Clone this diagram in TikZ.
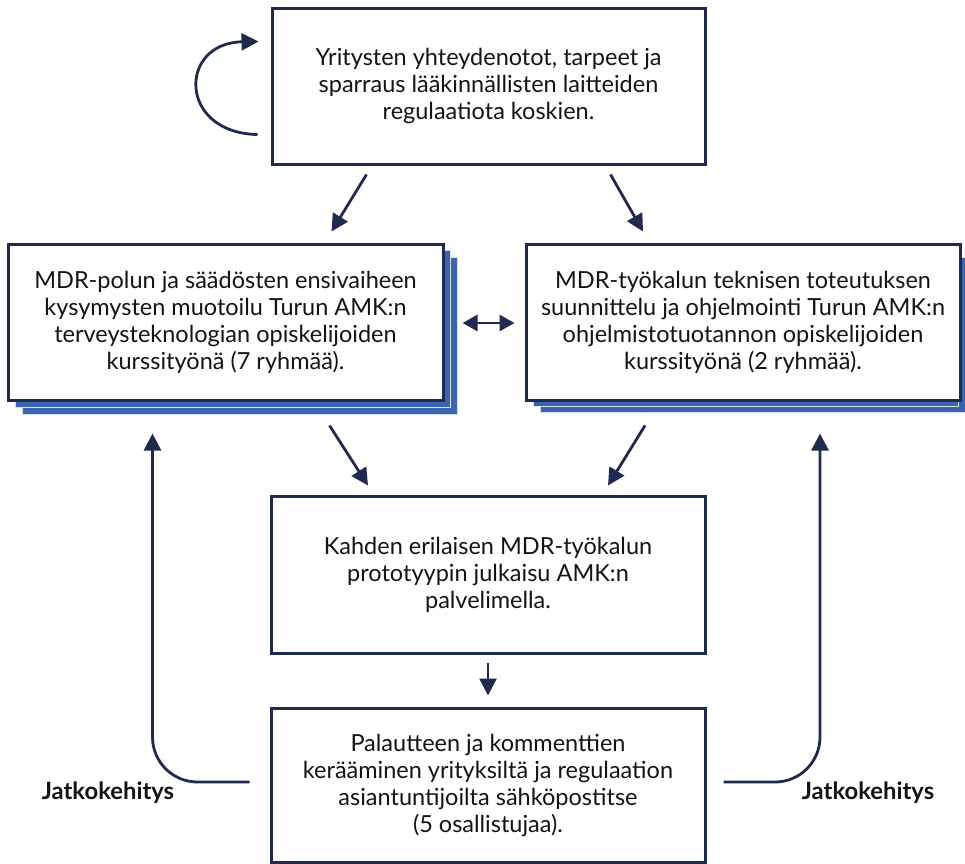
\documentclass[tikz,border=0pt]{standalone}
\usepackage{fontspec}
\setmainfont{Lato}
\usetikzlibrary{arrows.meta,calc}
\definecolor{navy}{HTML}{1F2A4E}
\definecolor{stackblue}{HTML}{3A64AE}
\definecolor{txt}{HTML}{141414}
\begin{document}
\begin{tikzpicture}[x=1pt,y=-1pt,
  box/.style={draw=navy,line width=3pt,fill=white,align=center,inner sep=0pt,
    font=\fontsize{23.5}{27}\selectfont,text=txt},
  flow/.style={draw=navy,line width=2.8pt,-{Triangle[length=17pt,width=17pt]}},
  dflow/.style={draw=navy,line width=2.8pt,{Triangle[length=15pt,width=16pt]}-{Triangle[length=15pt,width=16pt]}},
  layer/.style={fill=stackblue,draw=white!80!stackblue,line width=1pt},
  lbl/.style={font=\fontsize{23.8}{26}\selectfont\bfseries,text=txt}]
\useasboundingbox (0,0) rectangle (965,863);
\fill[white] (0,0) rectangle (965,863);
% stacked layers
\draw[layer] (22,257) rectangle (457,414);
\draw[layer] (15,250) rectangle (450,407);
\draw[layer] (540,257) rectangle (965,412);
\draw[layer] (533,250) rectangle (958,406);
% boxes
\node[box,minimum width=433pt,minimum height=156pt] (top) at (488.5,86)
  {Yritysten yhteydenotot, tarpeet ja\\ sparraus lääkinnällisten laitteiden\\ regulaatiota koskien.};
\node[box,minimum width=435pt,minimum height=156pt] (left) at (225.5,322)
  {MDR-polun ja säädösten ensivaiheen\\ kysymysten muotoilu Turun AMK:n\\ terveysteknologian opiskelijoiden\\ kurssityönä (7 ryhmää).};
\node[box,minimum width=434pt,minimum height=156pt] (right) at (743,322)
  {MDR-työkalun teknisen toteutuksen\\ suunnittelu ja ohjelmointi Turun AMK:n\\ ohjelmistotuotannon opiskelijoiden\\ kurssityönä (2 ryhmää).};
\node[box,minimum width=434pt,minimum height=157pt] (mid) at (488,574.5)
  {Kahden erilaisen MDR-työkalun\\ prototyypin julkaisu AMK:n\\ palvelimella.};
\node[box,minimum width=434pt,minimum height=154pt] (bot) at (488,785)
  {Palautteen ja kommenttien\\ kerääminen yrityksiltä ja regulaation\\ asiantuntijoilta sähköpostitse\\ (5 osallistujaa).};
\node[lbl] (lblL) at (108,793) {Jatkokehitys};
\node[lbl] (lblR) at (868,793) {Jatkokehitys};
% connectors
\draw[flow] ([shift={(-13,-31)}]top.south west) .. controls (178,133) and (178,43) .. ([shift={(-12,35)}]top.north west);
\draw[flow] ([shift={(-122,9)}]top.south) -- ([shift={(106,-11)}]left.north);
\draw[flow] ([shift={(122,9)}]top.south) -- ([shift={(-100,-11)}]right.north);
\draw[dflow] ([shift={(18,1)}]left.east) -- ([shift={(-10,1)}]right.west);
\draw[flow] ([shift={(104,24)}]left.south) -- ([shift={(-120,-9)}]mid.north);
\draw[flow] ([shift={(-98,24)}]right.south) -- ([shift={(120,-9)}]mid.north);
\draw[flow] ([shift={(0,8)}]mid.south) -- ([shift={(0,-11)}]bot.north);
\draw[flow,rounded corners=45pt] ([shift={(-20,-3)}]bot.west) -| ([shift={(-73,32)}]left.south);
\draw[flow,rounded corners=45pt] ([shift={(17,-3)}]bot.east) -| ([shift={(77,32)}]right.south);
\end{tikzpicture}
\end{document}
